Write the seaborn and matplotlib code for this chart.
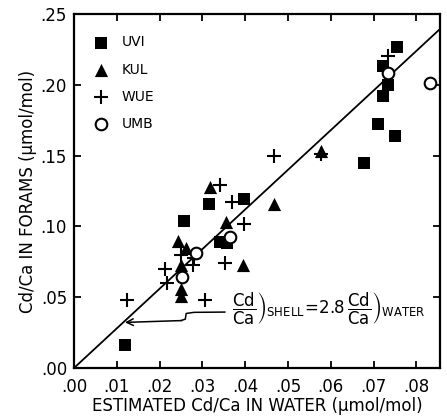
import matplotlib
matplotlib.use("Agg")
import matplotlib.pyplot as plt
import seaborn as sns
import pandas as pd
import numpy as np

# ---- data ----
uvi_x = [0.012, 0.0257, 0.0316, 0.0397, 0.034, 0.0357, 0.0755, 0.0722, 0.0734, 0.0722, 0.071, 0.075, 0.0678]
uvi_y = [0.016, 0.104, 0.116, 0.119, 0.089, 0.088, 0.227, 0.213, 0.200, 0.192, 0.172, 0.164, 0.145]

kul_x = [0.0318, 0.0355, 0.0243, 0.0262, 0.0395, 0.025, 0.025, 0.025, 0.0577, 0.0467]
kul_y = [0.128, 0.103, 0.090, 0.085, 0.073, 0.073, 0.056, 0.051, 0.153, 0.116]

wue_x = [0.0124, 0.0213, 0.0217, 0.0306, 0.0353, 0.0278, 0.025, 0.037, 0.0397, 0.0467, 0.0734, 0.034, 0.0577, 0.028]
wue_y = [0.048, 0.070, 0.060, 0.048, 0.074, 0.073, 0.080, 0.117, 0.102, 0.150, 0.220, 0.129, 0.151, 0.078]

umb_x = [0.0832, 0.0734, 0.0365, 0.0285, 0.0252]
umb_y = [0.201, 0.208, 0.0925, 0.081, 0.064]

slope = 2.8
x_ticks = [0.00, 0.01, 0.02, 0.03, 0.04, 0.05, 0.06, 0.07, 0.08]
x_ticklabels = [".00", ".01", ".02", ".03", ".04", ".05", ".06", ".07", ".08"]
y_ticks = [0.00, 0.05, 0.10, 0.15, 0.20, 0.25]
y_ticklabels = [".00", ".05", ".10", ".15", ".20", ".25"]

sns.set_style("ticks")
plt.rcParams['font.family'] = ['DejaVu Sans']
plt.rcParams['mathtext.fontset'] = 'dejavusans'
plt.rcParams['text.color'] = 'black'
plt.rcParams['axes.labelcolor'] = 'black'
plt.rcParams['xtick.color'] = 'black'
plt.rcParams['ytick.color'] = 'black'
plt.rcParams['axes.edgecolor'] = 'black'

fig = plt.figure(figsize=(4.47, 4.17), dpi=100)
ax = fig.add_axes([74/447, 1-368/417, (440-74)/447, (368-14)/417])

def df(x, y, name):
    return pd.DataFrame({"x": x, "y": y, "set": name})

sns.scatterplot(data=df(uvi_x, uvi_y, "UVI"), x="x", y="y", marker="s", s=80,
                color="black", edgecolor="black", linewidth=0, ax=ax, label="UVI", zorder=3)
sns.scatterplot(data=df(kul_x, kul_y, "KUL"), x="x", y="y", marker="^", s=90,
                color="black", edgecolor="black", linewidth=0, ax=ax, label="KUL", zorder=3)
sns.scatterplot(data=df(wue_x, wue_y, "WUE"), x="x", y="y", marker="+", s=110,
                color="black", linewidth=1.5, ax=ax, label="WUE", zorder=3)
sns.scatterplot(data=df(umb_x, umb_y, "UMB"), x="x", y="y", marker="o", s=70,
                facecolor="white", edgecolor="black", linewidth=1.5, ax=ax, label="UMB", zorder=4)

ax.axline((0, 0), slope=slope, color="black", linewidth=1.3, zorder=2)

ax.set_xlim(0, 0.0855)
ax.set_ylim(0, 0.25)
ax.set_xticks(x_ticks)
ax.set_xticklabels(x_ticklabels)
ax.set_yticks(y_ticks)
ax.set_yticklabels(y_ticklabels)
ax.tick_params(direction="in", length=5, width=1.3, top=True, right=True,
               labelsize=12, colors="black")
ax.tick_params(axis="x", pad=7)
ax.tick_params(axis="y", pad=5)
for sp in ax.spines.values():
    sp.set_visible(True)
    sp.set_linewidth(1.6)
    sp.set_color("black")

ax.set_xlabel("ESTIMATED Cd/Ca IN WATER (\u03bcmol/mol)", fontsize=12, labelpad=1)
ax.set_ylabel("Cd/Ca IN FORAMS (\u03bcmol/mol)", fontsize=12, labelpad=3)

leg = ax.legend(loc="upper left", frameon=False, fontsize=10, handletextpad=0.5,
                labelspacing=0.95, borderaxespad=0.0, bbox_to_anchor=(0.02, 0.955))

# annotation: wiggly arrow
path_x = [0.0353, 0.0280, 0.0262, 0.0260, 0.0250]
path_y = [0.0395, 0.0393, 0.0385, 0.0345, 0.0335]
ax.plot(path_x, path_y, color="black", linewidth=1.1, zorder=2)
ax.annotate("", xy=(0.0119, 0.0322), xytext=(0.0252, 0.0335),
            arrowprops=dict(arrowstyle="->", color="black", lw=1.1,
                            shrinkA=0, shrinkB=0, mutation_scale=12))

ax.text(0.0368, 0.0415,
        r"$\left.\dfrac{\mathrm{Cd}}{\mathrm{Ca}}\right)_{\mathrm{SHELL}}\!=\!2.8\,\left.\dfrac{\mathrm{Cd}}{\mathrm{Ca}}\right)_{\mathrm{WATER}}$",
        fontsize=12, va="center", ha="left", color="black")

fig.savefig("out.png", dpi=100)
